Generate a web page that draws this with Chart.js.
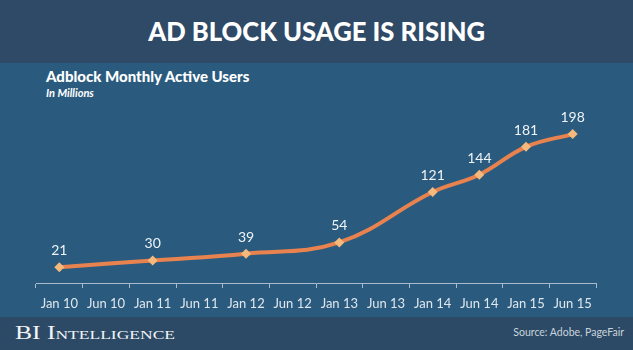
<!DOCTYPE html>
<html>
<head>
<meta charset="utf-8">
<script src="https://cdn.jsdelivr.net/npm/chart.js@4.4.0/dist/chart.umd.min.js"></script>
<style>
  html, body { margin: 0; padding: 0; }
  body { width: 633px; height: 350px; position: relative; overflow: hidden; background: #2a5b7e; font-family: Lato, "Open Sans", sans-serif; }
  #top { position: absolute; left: 0; top: 0; width: 633px; height: 63px; background: #2e4a67; }
  #mid { position: absolute; left: 0; top: 63px; width: 633px; height: 254px; background: #2a5b7e; }
  #bot { position: absolute; left: 0; top: 317px; width: 633px; height: 33px; background: #2c4a66; }
  #title { position: absolute; left: 0; top: 13px; width: 633px; text-align: center; color: #ffffff; font-weight: 900; font-size: 27px; line-height: 36px; white-space: nowrap; }
  #title span { display: inline-block; transform-origin: center center; }
  #sub { position: absolute; left: 46px; top: 67px; color: #ffffff; font-weight: 900; font-size: 15px; line-height: 19px; white-space: nowrap; }
  #unit { position: absolute; left: 46px; top: 86px; color: #ffffff; font-weight: 700; font-style: italic; font-size: 11px; line-height: 14px; white-space: nowrap; }
  #brand { position: absolute; left: 15px; top: 322px; color: #f2f4f6; font-family: "Liberation Serif", "DejaVu Serif", serif; font-size: 19px; line-height: 22px; font-variant: small-caps; white-space: nowrap; }
  #brand span { display: inline-block; transform-origin: left center; }
  #source { position: absolute; right: 9px; top: 325px; color: #c9d3dc; font-size: 10.5px; line-height: 14px; white-space: nowrap; }
  #wrap { position: absolute; left: 0; top: 0; width: 633px; height: 350px; }
</style>
</head>
<body>
<div id="top"></div>
<div id="mid"></div>
<div id="bot"></div>
<div id="title"><span id="titleText">AD BLOCK USAGE IS RISING</span></div>
<div id="sub">Adblock Monthly Active Users</div>
<div id="unit">In Millions</div>
<div id="brand"><span id="brandText">BI Intelligence</span></div>
<div id="source">Source: Adobe, PageFair</div>
<div id="wrap"><canvas id="c"></canvas></div>
<script>
// ---- data ----
const categories = ["Jan 10", "Jun 10", "Jan 11", "Jun 11", "Jan 12", "Jun 12", "Jan 13", "Jun 13", "Jan 14", "Jun 14", "Jan 15", "Jun 15"];
const activeUsers = [21, null, 30, null, 39, null, 54, null, 121, 144, 181, 198];
const yMin = 0;
const yMax = 230;

// fit text widths to the reference
function fitWidth(id, target) {
  const t = document.getElementById(id);
  const w = t.getBoundingClientRect().width;
  if (w > 0) t.style.transform = 'scaleX(' + (target / w) + ')';
}
fitWidth('titleText', 337);
fitWidth('brandText', 160);

const valueLabels = {
  id: 'valueLabels',
  afterDatasetsDraw(chart) {
    const ctx = chart.ctx;
    const meta = chart.getDatasetMeta(0);
    ctx.save();
    ctx.fillStyle = '#eef3f7';
    ctx.font = '14px Lato, "Open Sans", sans-serif';
    ctx.textAlign = 'center';
    ctx.textBaseline = 'alphabetic';
    meta.data.forEach((pt, i) => {
      const v = chart.data.datasets[0].data[i];
      if (v === null || v === undefined) return;
      ctx.fillText(String(v), pt.x, pt.y - 12);
    });
    ctx.restore();
  }
};

new Chart(document.getElementById('c'), {
  type: 'line',
  data: {
    labels: categories,
    datasets: [{
      data: activeUsers,
      spanGaps: true,
      borderColor: '#e8824f',
      borderWidth: 4,
      tension: 0.4,
      pointStyle: 'rectRot',
      pointRadius: 5,
      pointBackgroundColor: '#f6b97c',
      pointBorderColor: '#f6b97c',
      pointBorderWidth: 0,
      fill: false,
      clip: false
    }]
  },
  options: {
    responsive: true,
    maintainAspectRatio: false,
    animation: false,
    events: [],
    layout: { padding: { left: 36, right: 37, top: 110, bottom: 0 } },
    plugins: { legend: { display: false }, tooltip: { enabled: false } },
    scales: {
      x: {
        offset: true,
        afterFit(scale) { scale.height = 67; },
        border: { display: true, color: '#a9bccb', width: 1 },
        grid: { display: true, offset: true, drawOnChartArea: false, drawTicks: true, tickLength: 5, color: '#a9bccb', lineWidth: 1 },
        ticks: { color: '#dfe7ee', font: { family: 'Lato, "Open Sans", sans-serif', size: 13 }, padding: 8, maxRotation: 0, autoSkip: false }
      },
      y: {
        display: false,
        min: yMin,
        max: yMax
      }
    }
  },
  plugins: [valueLabels]
});
</script>
</body>
</html>
